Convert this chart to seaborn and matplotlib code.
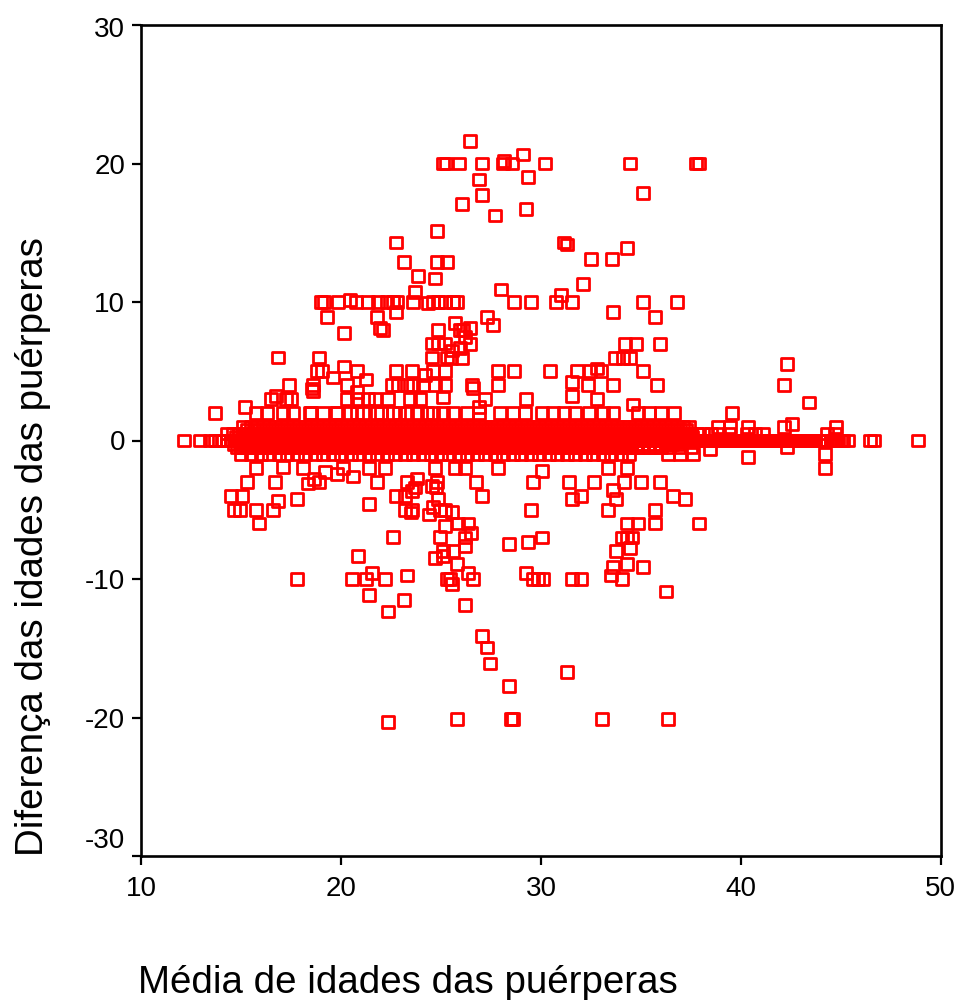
import pandas as pd
import seaborn as sns
import matplotlib.pyplot as plt
from matplotlib.transforms import ScaledTranslation

# Pontos acima da faixa central
upper_x = [25.1, 25.25, 26.45, 25.9, 27.05, 28.1, 28.15, 28.55, 30.2, 34.45, 37.75, 37.9, 29.1, 26.9, 29.35, 35.1, 27.05, 26.05, 27.7, 29.25,
           24.8, 22.75, 23.15, 24.8, 25.3, 23.85, 24.7, 23.7, 31.15, 31.3, 34.3, 32.5, 33.55, 32.1, 28.0, 31.0,
           19.0, 19.15, 19.85, 20.45, 20.75, 21.35, 21.85, 22.3, 22.6, 22.8, 23.6, 24.35, 24.6, 24.85, 25.2, 25.6, 25.8,
           28.65, 29.5, 30.75, 31.55, 35.1, 36.8, 33.6, 35.7, 19.3, 21.8, 22.75, 21.95, 22.1, 20.15,
           27.3, 27.6, 25.7, 26.45, 26.1, 25.95, 26.2, 26.45, 25.95, 25.55, 26.05, 25.5, 24.85, 24.55, 24.85, 25.2,
           34.2, 34.75, 35.95, 33.7, 34.1, 34.45, 24.55, 25.3, 16.85, 18.9,
           18.8, 19.05, 20.15, 20.8, 19.6, 21.25, 22.75, 23.55, 24.2, 24.6, 25.2,
           27.85, 28.65, 30.45, 31.8, 32.45, 32.8, 33.0, 35.1,
           17.4, 18.6, 18.55, 18.6, 20.3, 22.55, 22.85, 23.3, 23.6, 24.1, 24.7, 25.2,
           27.85, 26.55, 26.6, 31.55, 32.35, 33.6, 35.8,
           16.5, 16.75, 17.25, 17.5, 20.3, 20.8, 20.8, 21.35, 21.7, 22.35, 23.45, 23.95, 25.1,
           27.2, 26.9, 29.25, 31.55, 32.8, 34.6, 15.2, 42.3, 42.15, 43.4, 44.75, 42.55]
upper_y = [20, 20, 21.65, 20, 20, 20, 20.2, 20, 20, 20, 20, 20, 20.65, 18.85, 19.05, 17.85, 17.7, 17.1, 16.25, 16.7,
           15.1, 14.3, 12.9, 12.9, 12.9, 11.9, 11.7, 10.75, 14.3, 14.15, 13.9, 13.1, 13.1, 11.3, 10.9, 10.5,
           10, 10, 10, 10.15, 10, 10, 10, 10, 10, 10, 10, 9.9, 10, 10, 10, 10, 10,
           10, 10, 10, 10, 10, 10, 9.3, 8.9, 8.9, 8.9, 9.3, 8.15, 7.95, 7.75,
           8.9, 8.35, 8.5, 8.15, 7.95, 7.95, 7.45, 6.95, 6.7, 6.5, 5.95, 5.95, 7.95, 7.0, 7.0, 7.0,
           6.95, 6.95, 6.95, 5.95, 5.95, 5.95, 6.0, 6.0, 6.0, 6.0,
           5, 5, 5.35, 5, 4.55, 4.4, 5, 5, 4.75, 5, 5,
           5, 5, 5, 5, 5, 5.2, 5, 5,
           4, 4, 3.75, 3.6, 4, 4, 4, 4, 4, 4, 4, 4,
           4, 4, 3.8, 4.2, 4, 4, 4,
           3, 3.2, 3, 3, 3, 3.5, 3, 3, 3, 3, 3, 3, 3.1,
           3, 2.4, 3, 3.2, 3, 2.6, 2.4, 5.55, 4, 2.75, 1, 1.2]

# Pontos abaixo da faixa central
lower_x = [22.35, 25.8, 28.5, 28.6, 33.05, 36.35, 31.3, 27.05, 27.3, 27.45, 28.4, 22.35, 23.15, 21.4, 26.2, 36.25,
           17.8, 20.55, 21.25, 21.55, 22.2, 23.3, 25.3, 25.45, 25.55, 26.35, 26.6, 29.25, 29.6, 29.85, 30.1, 31.55, 32.0,
           33.5, 33.6, 34.05, 34.3, 35.1, 20.85, 24.7, 25.1, 25.1, 25.6, 25.8, 28.4, 29.35, 30.05, 22.6,
           24.95, 26.5, 26.2, 26.2, 33.75, 34.45, 34.05, 34.3, 34.55,
           15.9, 25.2, 25.85, 26.35, 34.3, 34.85, 35.7, 37.9,
           14.65, 14.95, 15.75, 16.6, 21.4, 16.85, 23.2, 23.55, 23.5, 24.4, 24.6, 24.95, 25.2, 25.55, 29.5, 33.35, 35.7,
           14.5, 15.05, 17.8, 22.75, 23.2, 24.85, 27.05, 31.55, 32.0, 33.75, 33.6, 36.6, 37.2,
           15.3, 16.7, 18.35, 18.9, 18.65, 20.6, 21.8, 23.3, 23.8, 23.7, 23.55, 24.75, 24.55, 24.8, 26.75,
           29.6, 31.4, 32.65, 34.15, 35.0, 35.95,
           15.75, 17.1, 18.1, 19.2, 19.8, 20.1, 21.4, 22.2, 24.7, 25.7, 26.2, 27.85, 30.05, 33.35, 34.3,
           38.45, 42.3, 40.35, 44.2, 44.2, 36.35, 36.95, 37.6]
lower_y = [-20.3, -20.1, -20.1, -20.1, -20.1, -20.1, -16.7, -14.1, -14.95, -16.1, -17.7, -12.35, -11.5, -11.15, -11.9, -10.9,
           -10, -10, -10, -9.55, -10, -9.75, -10, -10, -10.35, -9.55, -10, -9.55, -10, -10, -10, -10, -10,
           -9.75, -9.15, -10, -8.9, -9.15, -8.35, -8.5, -7.95, -8.35, -7.95, -8.9, -7.5, -7.35, -7, -6.95,
           -6.95, -6.7, -7, -7.6, -7.95, -7.75, -7, -7, -7,
           -6, -6.15, -6, -6, -6, -6, -6, -6,
           -5, -5, -5, -5, -4.6, -4.35, -5, -5, -5.2, -5.35, -4.8, -5, -5, -5.15, -5, -5, -5,
           -4, -4, -4.2, -4, -4, -4.2, -4, -4.2, -4, -4.2, -3.55, -4, -4.2,
           -3, -3, -3.1, -3, -2.8, -2.6, -3, -3, -2.75, -3.4, -3.65, -3.4, -3.3, -3, -3,
           -3, -3, -3, -3, -3, -3,
           -2, -1.9, -2, -2.3, -2.4, -2, -2, -2, -2, -2, -2, -2, -2.2, -2, -2,
           -0.6, -0.5, -1.2, -1, -2, -1, -1, -1]

# Linhas quase horizontais da faixa central
row_2_x = [13.7, 18.45, 18.5, 19.1, 19.75, 19.8, 20.45, 20.8, 21.1, 21.8, 22.6, 23.3, 24.3, 25.6, 27.95, 30.05, 31.15, 31.7, 33.6, 34.85, 36.0, 36.65, 39.55,
           15.75, 16.3, 17.1, 17.6, 22.0, 22.9, 23.8, 24.6, 25.1, 26.3, 26.9, 28.6, 29.2, 30.6, 32.4, 33.1, 35.4]
row_1_x = [15.1, 15.5, 15.8, 16.1, 16.4, 16.7, 17.0, 17.3, 17.6, 17.9, 18.2, 18.5, 18.8, 19.1, 19.4, 19.7, 20.0, 20.3, 20.6, 20.9,
           21.2, 21.5, 21.8, 22.1, 22.4, 22.7, 23.0, 23.3, 23.6, 23.9, 24.2, 24.5, 24.8, 25.1, 25.4, 25.7, 26.0, 26.3, 26.6, 26.9,
           27.2, 27.5, 27.8, 28.1, 28.4, 28.7, 29.0, 29.3, 29.6, 29.9, 30.2, 30.5, 30.8, 31.1, 31.4, 31.7, 32.0, 32.3, 32.6, 32.9,
           33.2, 33.5, 33.8, 34.1, 34.4, 34.7, 35.0, 35.3, 35.6, 35.9, 36.2, 36.5, 36.8, 37.1, 37.4, 38.85, 39.45, 40.35, 42.15]
row_075_x = [15.3, 15.65, 15.95, 16.25, 16.55, 16.85, 17.15, 17.45, 17.75, 18.05, 18.35, 18.65, 18.95, 19.25, 19.55, 19.85, 20.15, 20.45, 20.75, 21.05,
             21.35, 21.65, 21.95, 22.25, 22.55, 22.85, 23.15, 23.45, 23.75, 24.05, 24.35, 24.65, 24.95, 25.25, 25.55, 25.85, 26.15, 26.45, 26.75, 27.05,
             27.35, 27.65, 27.95, 28.25, 28.55, 28.85, 29.15, 29.45, 29.75, 30.05, 30.35, 30.65, 30.95, 31.25, 31.55, 31.85, 32.15, 32.45, 32.75, 33.05,
             33.35, 33.65, 33.95, 34.25, 34.55, 34.85, 35.15, 35.45, 35.75, 36.05, 36.35, 36.65, 36.95, 37.25]
row_half_x = [14.3, 14.6, 14.9, 15.1, 15.3, 15.5, 15.7, 15.9, 16.1, 16.3, 16.5, 16.7, 16.9, 17.1, 17.3, 17.5, 17.7, 17.9, 18.1, 18.3,
              18.5, 18.7, 18.9, 19.1, 19.3, 19.5, 19.7, 19.9, 20.1, 20.3, 20.5, 20.7, 20.9, 21.1, 21.3, 21.5, 21.7, 21.9, 22.1, 22.3,
              22.5, 22.7, 22.9, 23.1, 23.3, 23.5, 23.7, 23.9, 24.1, 24.3, 24.5, 24.7, 24.9, 25.1, 25.3, 25.5, 25.7, 25.9, 26.1, 26.3,
              26.5, 26.7, 26.9, 27.1, 27.3, 27.5, 27.7, 27.9, 28.1, 28.3, 28.5, 28.7, 28.9, 29.1, 29.3, 29.5, 29.7, 29.9, 30.1, 30.3,
              30.5, 30.7, 30.9, 31.1, 31.3, 31.5, 31.7, 31.9, 32.1, 32.3, 32.5, 32.7, 32.9, 33.1, 33.3, 33.5, 33.7, 33.9, 34.1, 34.3,
              34.5, 34.7, 34.9, 35.1, 35.3, 35.5, 35.7, 35.9, 36.1, 36.3, 36.5, 36.7, 36.9, 37.1, 37.3, 37.5, 37.8, 38.1, 38.5, 38.9,
              39.4, 40.3, 40.7, 41.1, 44.3, 44.7]
row_025_x = [14.75, 15.05, 15.35, 15.65, 15.95, 16.25, 16.55, 16.85, 17.15, 17.45, 17.75, 18.05, 18.35, 18.65, 18.95, 19.25, 19.55, 19.85, 20.15, 20.45,
             20.75, 21.05, 21.35, 21.65, 21.95, 22.25, 22.55, 22.85, 23.15, 23.45, 23.75, 24.05, 24.35, 24.65, 24.95, 25.25, 25.55, 25.85, 26.15, 26.45,
             26.75, 27.05, 27.35, 27.65, 27.95, 28.25, 28.55, 28.85, 29.15, 29.45, 29.75, 30.05, 30.35, 30.65, 30.95, 31.25, 31.55, 31.85, 32.15, 32.45,
             32.75, 33.05, 33.35, 33.65, 33.95, 34.25, 34.55, 34.85, 35.15, 35.45, 35.75, 36.05, 36.35, 36.65, 36.95, 37.25, 37.55]
row_0_x = [12.15, 12.95, 13.45, 13.7, 13.9, 14.1, 14.3, 14.5, 14.7, 14.9, 15.1, 15.3, 15.5, 15.7, 15.9, 16.1, 16.3, 16.5, 16.7, 16.9,
           17.1, 17.3, 17.5, 17.7, 17.9, 18.1, 18.3, 18.5, 18.7, 18.9, 19.1, 19.3, 19.5, 19.7, 19.9, 20.1, 20.3, 20.5, 20.7, 20.9,
           21.1, 21.3, 21.5, 21.7, 21.9, 22.1, 22.3, 22.5, 22.7, 22.9, 23.1, 23.3, 23.5, 23.7, 23.9, 24.1, 24.3, 24.5, 24.7, 24.9,
           25.1, 25.3, 25.5, 25.7, 25.9, 26.1, 26.3, 26.5, 26.7, 26.9, 27.1, 27.3, 27.5, 27.7, 27.9, 28.1, 28.3, 28.5, 28.7, 28.9,
           29.1, 29.3, 29.5, 29.7, 29.9, 30.1, 30.3, 30.5, 30.7, 30.9, 31.1, 31.3, 31.5, 31.7, 31.9, 32.1, 32.3, 32.5, 32.7, 32.9,
           33.1, 33.3, 33.5, 33.7, 33.9, 34.1, 34.3, 34.5, 34.7, 34.9, 35.1, 35.3, 35.5, 35.7, 35.9, 36.1, 36.3, 36.5, 36.7, 36.9,
           37.1, 37.3, 37.5, 37.7, 37.9, 38.1, 38.3, 38.5, 38.7, 38.9, 39.1, 39.3, 39.5, 39.7, 39.9, 40.1, 40.3, 40.5, 40.7, 40.9,
           41.1, 41.3, 41.5, 41.7, 41.9, 42.1, 42.3, 42.5, 42.7, 42.9, 43.1, 43.3, 43.5, 43.7, 43.9, 44.1, 44.3, 44.5, 44.7, 44.85,
           45.0, 45.35, 46.45, 46.65, 48.85]
row_0_extra_x = [14.8, 15.0, 15.4, 15.8, 16.2, 16.6, 17.0, 17.4, 17.8, 18.2, 18.6, 19.0, 19.4, 19.8, 20.2, 20.6, 21.0, 21.4, 21.8, 22.2,
                 22.6, 23.0, 23.4, 23.8, 24.2, 24.6, 25.0, 25.4, 25.8, 26.2, 26.6, 27.0, 27.4, 27.8, 28.2, 28.6, 29.0, 29.4, 29.8, 30.2,
                 30.6, 31.0, 31.4, 31.8, 32.2, 32.6, 33.0, 33.4, 33.8, 34.2, 34.6, 35.0, 35.4, 35.8, 36.2, 36.6, 37.0, 37.4, 37.8, 38.0,
                 38.2, 38.4, 38.6, 38.8, 39.0, 39.2, 39.4, 39.6, 39.8, 40.0, 40.2, 40.4, 40.6, 40.8, 41.0, 41.2, 41.4, 41.6, 41.8, 42.0,
                 42.2, 42.4, 42.6, 42.8, 43.0, 43.2, 43.4, 43.6, 44.6, 44.8, 45.1]
row_minus_025_x = [14.65, 14.95, 15.25, 15.55, 15.85, 16.15, 16.45, 16.75, 17.05, 17.35, 17.65, 17.95, 18.25, 18.55, 18.85, 19.15, 19.45, 19.75, 20.05, 20.35,
                   20.65, 20.95, 21.25, 21.55, 21.85, 22.15, 22.45, 22.75, 23.05, 23.35, 23.65, 23.95, 24.25, 24.55, 24.85, 25.15, 25.45, 25.75, 26.05, 26.35,
                   26.65, 26.95, 27.25, 27.55, 27.85, 28.15, 28.45, 28.75, 29.05, 29.35, 29.65, 29.95, 30.25, 30.55, 30.85, 31.15, 31.45, 31.75, 32.05, 32.35,
                   32.65, 32.95, 33.25, 33.55, 33.85, 34.15, 34.45, 34.75, 35.05, 35.35, 35.65, 35.95, 36.25, 36.55, 36.85]
row_minus_half_x = [14.8, 15.0, 15.3, 15.6, 15.9, 16.2, 16.5, 16.8, 17.1, 17.4, 17.7, 18.0, 18.3, 18.6, 18.9, 19.2, 19.5, 19.8, 20.1, 20.4,
                    20.7, 21.0, 21.3, 21.6, 21.9, 22.2, 22.5, 22.8, 23.1, 23.4, 23.7, 24.0, 24.3, 24.6, 24.9, 25.2, 25.5, 25.8, 26.1, 26.4,
                    26.7, 27.0, 27.3, 27.6, 27.9, 28.2, 28.5, 28.8, 29.1, 29.4, 29.7, 30.0, 30.3, 30.6, 30.9, 31.2, 31.5, 31.8, 32.1, 32.4,
                    32.7, 33.0, 33.3, 33.6, 33.9, 34.2, 34.5, 34.8, 35.1, 35.4, 35.7, 36.0, 36.4, 36.9, 37.5]
row_minus_1_x = [15.0, 15.5, 16.0, 16.4, 16.9, 17.3, 17.8, 18.2, 18.7, 19.1, 19.6, 20.0, 20.5, 20.9, 21.4, 21.8, 22.3, 22.7, 23.2, 23.6,
                 24.1, 24.5, 25.0, 25.4, 25.9, 26.3, 26.8, 27.2, 27.7, 28.1, 28.6, 29.0, 29.5, 29.9, 30.4, 30.8, 31.3, 31.7, 32.2, 32.6,
                 33.1, 33.5, 34.0, 34.4]

ticks_x = [10, 20, 30, 40, 50]
ticks_y = [-30, -20, -10, 0, 10, 20, 30]

media = (upper_x + lower_x + row_2_x + row_1_x + row_075_x + row_half_x + row_025_x + row_0_x + row_0_extra_x
         + row_minus_025_x + row_minus_half_x + row_minus_1_x)
diferenca = (upper_y + lower_y + [2] * len(row_2_x) + [1] * len(row_1_x) + [0.75] * len(row_075_x)
             + [0.5] * len(row_half_x) + [0.25] * len(row_025_x) + [0] * len(row_0_x) + [0] * len(row_0_extra_x)
             + [-0.25] * len(row_minus_025_x) + [-0.5] * len(row_minus_half_x) + [-1] * len(row_minus_1_x))
df = pd.DataFrame({"media": media, "diferenca": diferenca})

sns.set_style("white")
plt.rcParams["font.family"] = ["Liberation Sans", "DejaVu Sans"]
plt.rcParams["axes.unicode_minus"] = False

fig, ax = plt.subplots(figsize=(9.62, 10), dpi=100)
fig.subplots_adjust(left=0.1466, right=0.978, top=0.975, bottom=0.144)

sns.scatterplot(data=df, x="media", y="diferenca", marker="s", s=72,
                facecolor="none", edgecolor="#ff0000", linewidth=2.0, ax=ax, clip_on=False)

ax.set_xlim(10, 50)
ax.set_ylim(-30, 30)
ax.set_xticks(ticks_x)
ax.set_yticks(ticks_y)
ax.tick_params(axis="both", length=6.5, width=1.6, color="black", labelsize=20,
               labelcolor="black", bottom=True, left=True)
ax.tick_params(axis="x", pad=8)
ax.tick_params(axis="y", pad=5)
for spine in ax.spines.values():
    spine.set_linewidth(1.9)
    spine.set_color("black")

# Rótulos das pontas do eixo y ficam deslocados no original
labels_y = ax.get_yticklabels()
labels_y[0].set_transform(labels_y[0].get_transform() + ScaledTranslation(0, 18 / 100, fig.dpi_scale_trans))
labels_y[-1].set_transform(labels_y[-1].get_transform() + ScaledTranslation(0, -2 / 100, fig.dpi_scale_trans))

ax.set_xlabel("Média de idades das puérperas", fontsize=27.75, color="black", ha="left")
ax.xaxis.set_label_coords(-0.004, -0.131)
ax.set_ylabel("Diferença das idades das puérperas", fontsize=27.75, color="black", ha="left")
ax.yaxis.set_label_coords(-0.112, 0)

plt.savefig("out.png", dpi=100)
